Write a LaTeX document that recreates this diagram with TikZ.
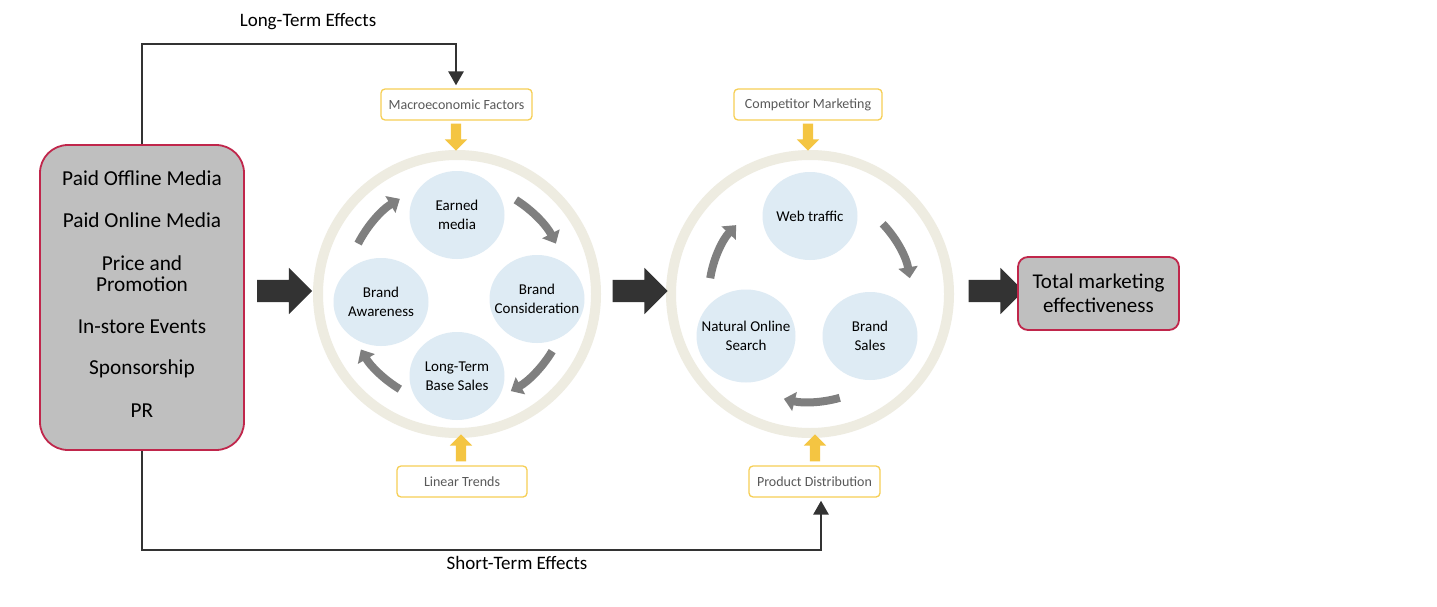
\documentclass[tikz,border=0pt]{standalone}
\usepackage{fontspec}
\setmainfont{Carlito}
\usetikzlibrary{arrows.meta,shapes.geometric,shapes.arrows,calc}
\definecolor{dark}{HTML}{333333}
\definecolor{crim}{HTML}{C0264B}
\definecolor{boxgray}{HTML}{BFBFBF}
\definecolor{ylw}{HTML}{F4C542}
\definecolor{ylwb}{HTML}{F6CF55}
\definecolor{ringc}{HTML}{EEECE1}
\definecolor{lblue}{HTML}{DEEBF4}
\definecolor{garrow}{HTML}{7F7F7F}
\definecolor{txtgray}{HTML}{595959}
\begin{document}
\begin{tikzpicture}[x=1pt,y=-1pt,
  mainbox/.style={draw=crim, line width=1.8pt, fill=boxgray, inner sep=0pt},
  drvtext/.style={font=\fontsize{21.3}{21}\selectfont, align=center, inner sep=0pt},
  factor/.style={draw=ylwb, line width=1.3pt, fill=white, rounded corners=4pt, minimum height=31pt, inner sep=0pt, font=\fontsize{14}{16}\selectfont, text=txtgray},
  bubble/.style={ellipse, fill=lblue, minimum width=95pt, minimum height=88pt, inner sep=-14pt, align=center, font=\fontsize{15}{19}\selectfont},
  ringline/.style={draw=ringc, line width=10pt},
  cyc/.style={draw=garrow, line width=8pt, -{Triangle[width=19pt,length=11pt]}},
  bigarrow/.style={single arrow, fill=dark, minimum height=55pt, single arrow head extend=12pt, inner ysep=11pt, inner xsep=0pt},
  yarrow/.style={single arrow, fill=ylw, minimum height=27pt, single arrow head extend=6pt, inner ysep=5pt, inner xsep=0pt},
  effect/.style={draw=dark, line width=2.8pt, -{Triangle[width=15pt,length=14pt]}},
  efflabel/.style={font=\fontsize{19}{22}\selectfont, inner sep=0pt}]
\useasboundingbox[fill=white] (0,0) rectangle (1437,607);

% left drivers box
\node[mainbox, rounded corners=28pt, minimum width=204pt, minimum height=305pt] (drivers) at (142,297.5) {};
\node[drvtext] (d1) at (142,178) {Paid Offline Media};
\node[drvtext] (d2) at (142,220) {Paid Online Media};
\node[drvtext] (d3) at (142,274) {Price and\\Promotion};
\node[drvtext] (d4) at (142,327) {In-store Events};
\node[drvtext] (d5) at (142,369) {Sponsorship};
\node[drvtext] (d6) at (142,411) {PR};

% circle 1
\coordinate (c1) at (457,294);
\draw[ringline] (c1) circle[radius=139];
\node[bubble] (earned) at (457,215) {Earned\\media};
\node[bubble] (aware) at (381,302) {Brand\\Awareness};
\node[bubble] (consid) at (537,299) {Brand\\Consideration};
\node[bubble] (base) at (457,376) {Long-Term\\Base Sales};
\draw[cyc] (c1) ++(-153:111) arc[start angle=-153, end angle=-121, radius=111];
\draw[cyc] (c1) ++(-58:111) arc[start angle=-58, end angle=-27, radius=111];
\draw[cyc] (c1) ++(31:111) arc[start angle=31, end angle=61, radius=111];
\draw[cyc] (c1) ++(121:111) arc[start angle=121, end angle=150, radius=111];

% circle 2
\coordinate (c2) at (810,294);
\draw[ringline] (c2) circle[radius=139];
\node[bubble] (web) at (810,216) {Web traffic};
\node[bubble, minimum width=99pt, minimum height=93pt] (natural) at (746,336) {Natural Online\\Search};
\node[bubble] (sales) at (870,336) {Brand\\Sales};
\draw[cyc] (c2) ++(-171:101) arc[start angle=-171, end angle=-137, radius=101];
\draw[cyc] (c2) ++(-44:101) arc[start angle=-44, end angle=-9, radius=101];
\draw[cyc] (c2) ++(74:108) arc[start angle=74, end angle=104, radius=108];

% factor boxes
\node[factor, minimum width=151pt] (macro) at (456.5,104.5) {Macroeconomic Factors};
\node[factor, minimum width=148pt] (comp) at (808,104.5) {Competitor Marketing};
\node[factor, minimum width=130pt] (linear) at (462,481.5) {Linear Trends};
\node[factor, minimum width=131pt] (prod) at (814.5,481.5) {Product Distribution};

% yellow arrows
\node[yarrow, rotate=-90] (ya1) at (456,134.5) {};
\node[yarrow, rotate=-90] (ya2) at (808,134.5) {};
\node[yarrow, rotate=90] (ya3) at (461,450.5) {};
\node[yarrow, rotate=90] (ya4) at (815,450.5) {};

% big arrows
\node[bigarrow] (ba1) at (279,291) {};
\node[bigarrow] (ba2) at (634.5,291) {};
\node[bigarrow] (ba3) at (990.5,291) {};

% total box
\node[mainbox, rounded corners=10pt, minimum width=161pt, minimum height=73pt, align=center, font=\fontsize{21}{24}\selectfont] (total) at (1098.5,293.5) {Total marketing\\effectiveness};

% effect connectors
\coordinate (lt) at (456,44);
\coordinate (st) at (821,550);
\draw[effect, shorten >=3pt] (drivers.north) |- (lt) -- (lt |- macro.north);
\draw[effect, shorten >=3pt] (drivers.south) |- (st) -- (st |- prod.south);
\node[efflabel] (ltlabel) at (308,22) {Long-Term Effects};
\node[efflabel] (stlabel) at (517,563) {Short-Term Effects};
\end{tikzpicture}
\end{document}
